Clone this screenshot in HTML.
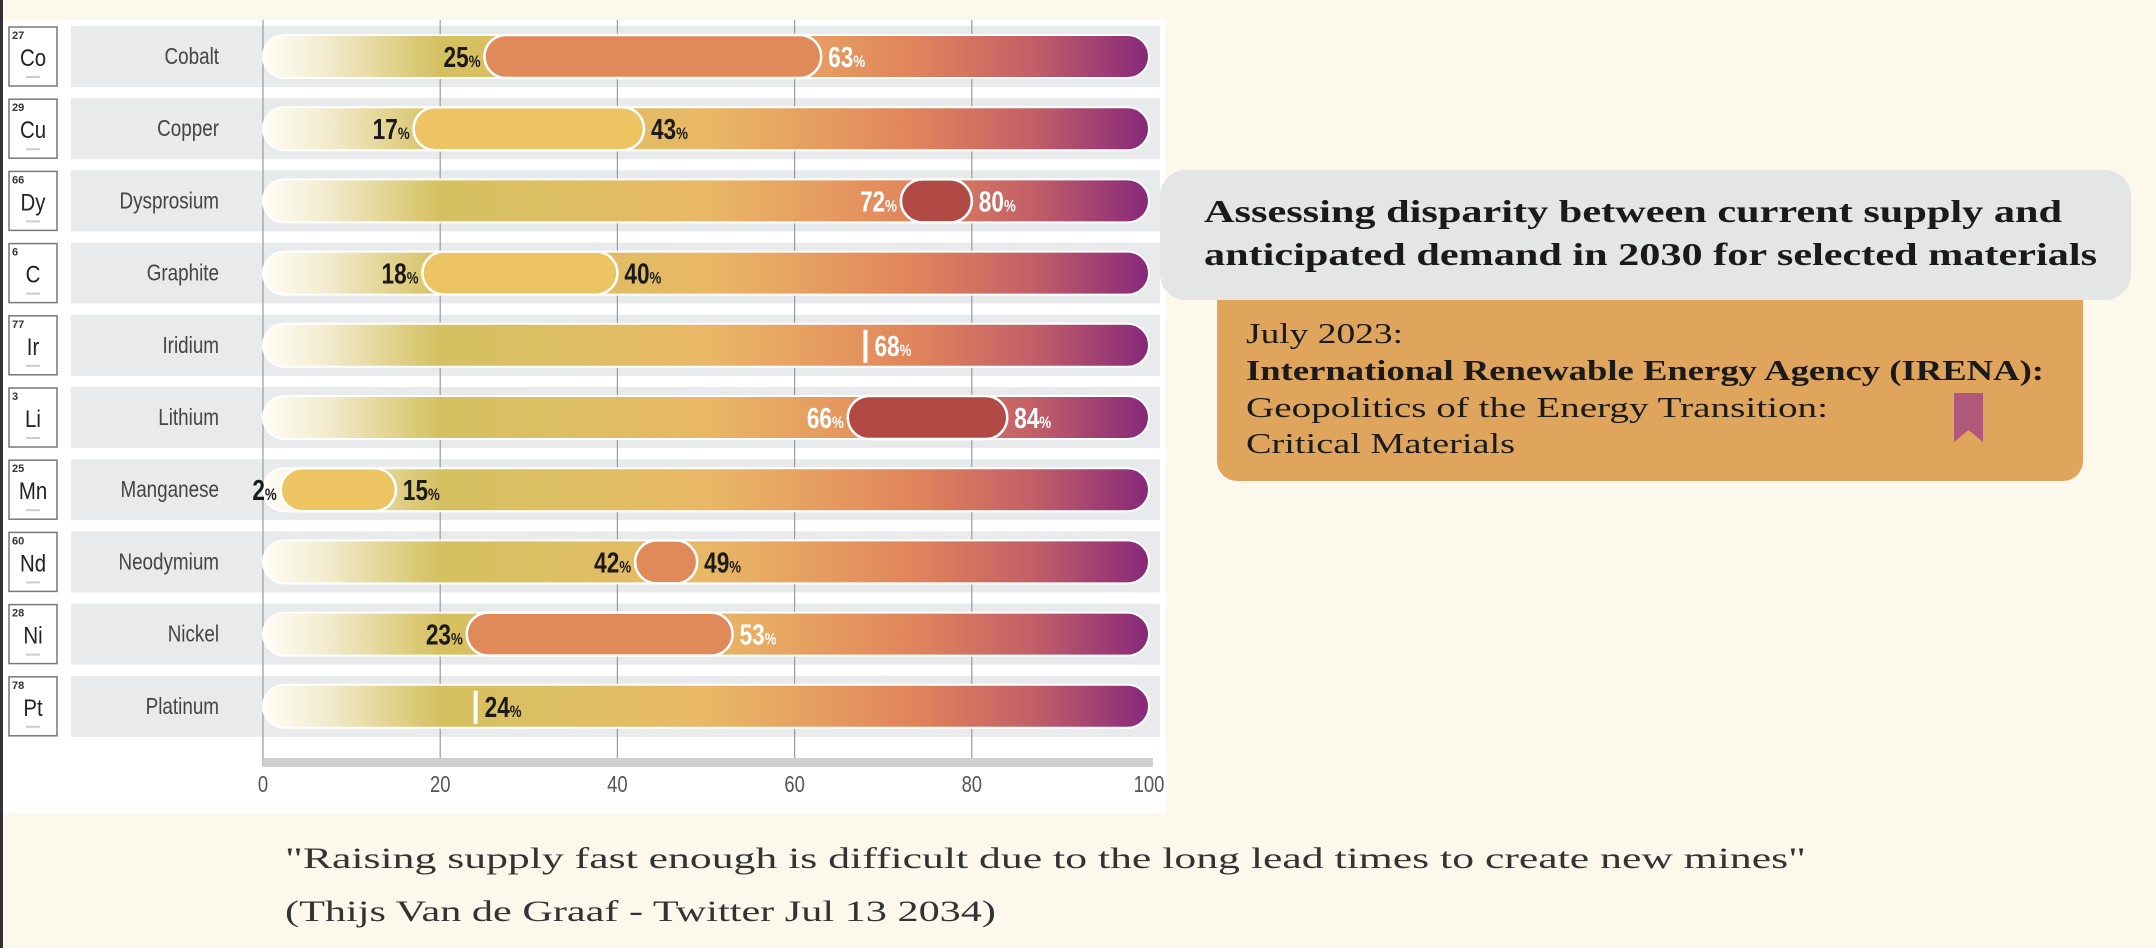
<!DOCTYPE html>
<html><head><meta charset="utf-8"><style>
html,body{margin:0;padding:0;background:#fcf9ec;}
svg{display:block}
</style></head><body>
<svg id="root" width="2156" height="948" viewBox="0 0 2156 948" xmlns="http://www.w3.org/2000/svg">
<defs>
<linearGradient id="barGrad" x1="263" x2="1149" y1="0" y2="0" gradientUnits="userSpaceOnUse">
<stop offset="0" stop-color="#fffdf6"/>
<stop offset="0.07" stop-color="#f3ecd0"/>
<stop offset="0.2" stop-color="#d5c060"/>
<stop offset="0.32" stop-color="#dcc063"/>
<stop offset="0.5" stop-color="#e9b866"/>
<stop offset="0.63" stop-color="#e69c60"/>
<stop offset="0.74" stop-color="#e0835b"/>
<stop offset="0.87" stop-color="#c25f68"/>
<stop offset="1" stop-color="#86287a"/>
</linearGradient>
</defs>
<rect x="0" y="0" width="2156" height="948" fill="#fcf9ec"/>
<rect x="0" y="0" width="3" height="948" fill="#333"/>
<rect x="3" y="20" width="1163" height="793" fill="#ffffff"/>
<g id="chart"></g>

<g>
<rect x="1160" y="170" width="971" height="130" rx="26" fill="#e4e6e6"/>
<text x="1204" y="222" font-family="Liberation Serif, serif" font-weight="bold" font-size="32" fill="#1a1a1a" textLength="858" lengthAdjust="spacingAndGlyphs">Assessing disparity between current supply and</text>
<text x="1204" y="265" font-family="Liberation Serif, serif" font-weight="bold" font-size="32" fill="#1a1a1a" textLength="893" lengthAdjust="spacingAndGlyphs">anticipated demand in 2030 for selected materials</text>
</g>
<g>
<path d="M1217 300 H2083 V461 A20 20 0 0 1 2063 481 H1237 A20 20 0 0 1 1217 461 Z" fill="#e0a55d"/>
<text x="1246" y="343" font-family="Liberation Serif, serif" font-size="28" fill="#1a1a1a" textLength="157" lengthAdjust="spacingAndGlyphs">July 2023:</text>
<text x="1246" y="380" font-family="Liberation Serif, serif" font-weight="bold" font-size="28" fill="#1a1a1a" textLength="798" lengthAdjust="spacingAndGlyphs">International Renewable Energy Agency (IRENA):</text>
<text x="1246" y="417" font-family="Liberation Serif, serif" font-size="28" fill="#1a1a1a" textLength="582" lengthAdjust="spacingAndGlyphs">Geopolitics of the Energy Transition:</text>
<text x="1246" y="453" font-family="Liberation Serif, serif" font-size="28" fill="#1a1a1a" textLength="269" lengthAdjust="spacingAndGlyphs">Critical Materials</text>
<path d="M1954 393 H1983 V442 L1968.5 430 L1954 442 Z" fill="#b0587a"/>
</g>
<text x="285" y="868" font-family="Liberation Serif, serif" font-size="30" fill="#333" textLength="1521" lengthAdjust="spacingAndGlyphs">"Raising supply fast enough is difficult due to the long lead times to create new mines"</text>
<text x="285" y="921" font-family="Liberation Serif, serif" font-size="30" fill="#333" textLength="711" lengthAdjust="spacingAndGlyphs">(Thijs Van de Graaf - Twitter Jul 13 2034)</text>
</svg>
<script>
const materials = ["Cobalt","Copper","Dysprosium","Graphite","Iridium","Lithium","Manganese","Neodymium","Nickel","Platinum"];
const symbols = ["Co","Cu","Dy","C","Ir","Li","Mn","Nd","Ni","Pt"];
const atomicNumbers = ["27","29","66","6","77","3","25","60","28","78"];
const lowValues = [25,17,72,18,null,66,2,42,23,null];
const highValues = [63,43,80,40,68,84,15,49,53,24];
const segmentColors = ["#e08a5a","#ecc462","#b14a45","#ecc462",null,"#b14a45","#ecc462","#e08a5a","#e08a5a",null];
const lowLabelWhite = [false,false,true,false,false,true,false,false,false,false];
const highLabelWhite = [true,false,true,false,true,true,false,false,true,false];
const xTicks = [0,20,40,60,80,100];

const NS = "http://www.w3.org/2000/svg";
const chart = document.getElementById('chart');
const X0 = 263, X1 = 1149;
function xScale(v){ return X0 + (X1 - X0) * v / 100; }
const ROW0 = 26, PITCH = 72.2, BAND_H = 61, BAR_H = 43;
function rowTop(i){ return ROW0 + i * PITCH; }
function mk(tag, attrs, parent){
  const e = document.createElementNS(NS, tag);
  for (const k in attrs) e.setAttribute(k, attrs[k]);
  (parent || chart).appendChild(e);
  return e;
}
const LBL = "Liberation Sans Narrow, Liberation Sans, sans-serif";
function cond(x, y, s){ return 'translate(' + x + ',' + y + ') scale(' + s + ',1)'; }

// bands
materials.forEach((m, i) => {
  const b = mk('rect', {x:71, y:rowTop(i), width:1089, height:BAND_H, fill:'#e9eaec'});
  
  
});
// grid
xTicks.forEach(t => {
  if (t === 100) return;
  const l = mk('line', {x1:xScale(t), x2:xScale(t), y1:20, y2:766, stroke:'#9a9a9a', 'stroke-width':1.2});
  
  
});
const axisBar = mk('rect', {x:X0, y:758, width:890, height:9, fill:'#cfcfd1'});


xTicks.forEach(t => {
  const tx = mk('text', {x:0, y:0, transform:cond(xScale(t), 792, 0.8), 'text-anchor':'middle', 'font-family':LBL, 'font-size':23, fill:'#555'});
  tx.textContent = String(t);
  
  
});

function valueLabel(v, x, y, anchor, white, name){
  const t = mk('text', {x:0, y:0, transform:cond(x, y, 0.78), 'text-anchor':anchor, 'font-family':LBL, 'font-weight':'bold', 'font-size':29, fill: white ? '#ffffff' : '#1a1a1a'});
  const a = document.createElementNS(NS, 'tspan'); a.textContent = String(v); t.appendChild(a);
  const p = document.createElementNS(NS, 'tspan'); p.setAttribute('font-size', '17'); p.textContent = '%'; t.appendChild(p);
  
  
}

materials.forEach((m, i) => {
  const top = rowTop(i);
  const key = m.toLowerCase();
  const g = mk('g', {});
  
  
  mk('rect', {x:9, y:top+1, width:48, height:BAND_H-2, fill:'#fff', stroke:'#777', 'stroke-width':1.5}, g);
  const n = mk('text', {x:12, y:top+13, 'font-family':LBL, 'font-weight':'bold', 'font-size':11, fill:'#333'}, g);
  n.textContent = atomicNumbers[i];
  const s = mk('text', {x:0, y:0, transform:cond(33, top+40, 0.85), 'text-anchor':'middle', 'font-family':'Liberation Sans, sans-serif', 'font-size':24, fill:'#222'}, g);
  s.textContent = symbols[i];
  mk('rect', {x:26, y:top+50, width:14, height:2, fill:'#ccc'}, g);
  const nm = mk('text', {x:0, y:0, transform:cond(219, top+38, 0.82), 'text-anchor':'end', 'font-family':LBL, 'font-size':23, fill:'#444'});
  nm.textContent = m;
  
  
  const by = top + 9;
  const bar = mk('rect', {x:X0, y:by, width:X1-X0, height:BAR_H, rx:21.5, fill:'url(#barGrad)', stroke:'#fff', 'stroke-width':2});
  
  
  const ty = by + 32;
  if (lowValues[i] !== null) {
    const x1 = xScale(lowValues[i]), x2 = xScale(highValues[i]);
    const seg = mk('rect', {x:x1, y:by, width:x2-x1, height:BAR_H, rx:21.5, fill:segmentColors[i], stroke:'#fff', 'stroke-width':2.5});
    
    
    valueLabel(lowValues[i], x1 - 4, ty, 'end', lowLabelWhite[i], 'low-value-label-' + key);
    valueLabel(highValues[i], x2 + 7, ty, 'start', highLabelWhite[i], 'high-value-label-' + key);
  } else {
    const x = xScale(highValues[i]);
    const ln = mk('rect', {x:x-2, y:by+6, width:4, height:BAR_H-10, fill:'#fff'});
    
    
    valueLabel(highValues[i], x + 9, ty, 'start', highLabelWhite[i], 'value-label-' + key);
  }
});
</script>
</body></html>
